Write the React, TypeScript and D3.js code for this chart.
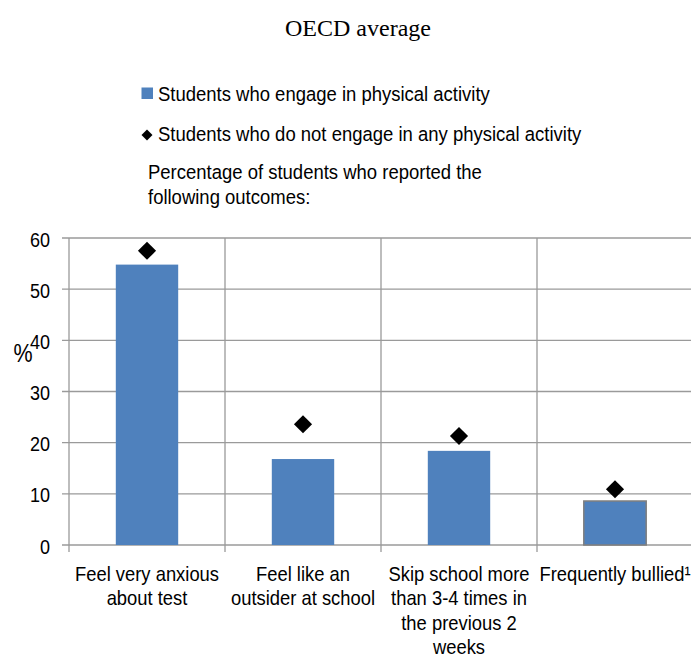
import React from "react";
import * as d3 from "d3";

const categories = [
  ["Feel very anxious", "about test"],
  ["Feel like an", "outsider at school"],
  ["Skip school more", "than 3-4 times in", "the previous 2", "weeks"],
  ["Frequently bullied¹"],
];
const activeValues = [54.8, 16.8, 18.4, 8.6];
const inactiveValues = [57.5, 23.6, 21.3, 10.9];
const yTicks = [0, 10, 20, 30, 40, 50, 60];
const seriesNames = [
  "Students who engage in physical activity",
  "Students who do not engage in any physical activity",
];
const title = "OECD average";
const subtitle = ["Percentage of students who reported the", "following outcomes:"];

const W = 691;
const H = 657;
const FONT = "'Liberation Sans', Arial, sans-serif";
const GRID = "#9a9a9a";
const BLUE = "#4f81bd";
const SY = 1.13;

function T({ x, y, size, anchor = "start", sy = SY, children }: any) {
  return (
    <text
      transform={`translate(${x},${y}) scale(1,${sy})`}
      x={0}
      y={0}
      fontSize={size}
      textAnchor={anchor}
      fill="#000"
    >
      {children}
    </text>
  );
}

export default function App() {
  const keys = categories.map((_, i) => String(i));
  const x = d3.scaleBand<string>().domain(keys).range([69, 693]).paddingInner(0).paddingOuter(0);
  const y = d3.scaleLinear().domain([0, 60]).range([545, 238]);
  const bw = x.bandwidth() * 0.4;
  const diamond = d3.symbol().type(d3.symbolSquare).size(165)();
  const diamondSmall = d3.symbol().type(d3.symbolSquare).size(60)();

  return (
    <svg
      width={W}
      height={H}
      style={{ position: "absolute", left: 0, top: 0, background: "#fff" }}
      fontFamily={FONT}
    >
      <rect x={0} y={0} width={W} height={H} fill="#fff" />
      <text x={358} y={36} textAnchor="middle" fontFamily="'Liberation Serif', 'Times New Roman', serif" fontSize={24} fill="#000">
        {title}
      </text>
      {/* legend */}
      <rect x={141.5} y={87.5} width={11.5} height={11.5} fill={BLUE} />
      <T x={158} y={100.5} size={18.5}>{seriesNames[0]}</T>
      <path d={diamondSmall!} transform="translate(147,135) rotate(45)" fill="#000" />
      <T x={158} y={140.5} size={18.5}>{seriesNames[1]}</T>
      {subtitle.map((s, i) => (
        <T key={i} x={148} y={179 + i * 25} size={18.5}>{s}</T>
      ))}
      {/* horizontal gridlines */}
      {yTicks.map((t) => (
        <g key={t}>
          <line x1={62} x2={693} y1={y(t)} y2={y(t)} stroke={GRID} strokeWidth={1.3} />
          <T x={50} y={y(t) + 8.5} size={18} anchor="end" sy={1.17}>{t}</T>
        </g>
      ))}
      {/* vertical gridlines */}
      {keys.map((k) => (
        <line key={k} x1={x(k)!} x2={x(k)!} y1={238} y2={552} stroke={GRID} strokeWidth={1.3} />
      ))}
      <T x={13.5} y={362} size={21.5} sy={1.2}>%</T>
      {/* bars */}
      {activeValues.map((v, i) => {
        const k = keys[i];
        const cx = x(k)! + x.bandwidth() / 2;
        const last = i === activeValues.length - 1;
        return (
          <rect
            key={k}
            x={cx - bw / 2}
            y={y(v)}
            width={bw}
            height={y(0) - y(v)}
            fill={BLUE}
            stroke={last ? "#7f7f7f" : "none"}
            strokeWidth={last ? 1.5 : 0}
          />
        );
      })}
      {/* diamonds */}
      {inactiveValues.map((v, i) => {
        const k = keys[i];
        const cx = x(k)! + x.bandwidth() / 2;
        return <path key={k} d={diamond!} transform={`translate(${cx},${y(v)}) rotate(45)`} fill="#000" />;
      })}
      {/* category labels */}
      {categories.map((lines, i) => {
        const k = keys[i];
        const cx = x(k)! + x.bandwidth() / 2;
        return (
          <g key={k}>
            {lines.map((l, j) => (
              <T key={j} x={cx} y={580.5 + j * 24.5} size={18.4} anchor="middle" sy={1.12}>{l}</T>
            ))}
          </g>
        );
      })}
    </svg>
  );
}
